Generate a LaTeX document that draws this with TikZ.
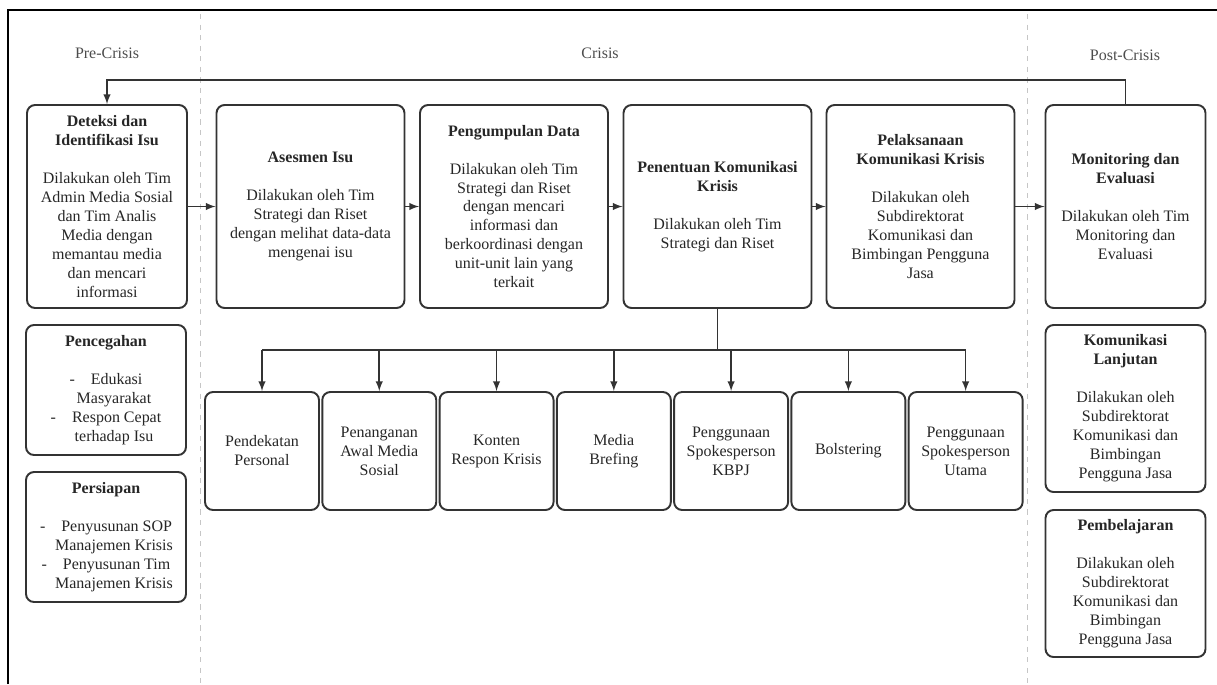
\documentclass[tikz,border=0pt]{standalone}
\usepackage{fontspec}
\setmainfont{Liberation Serif}
\usetikzlibrary{positioning}
\tikzstyle{box} = [rectangle,draw=black!80,line width=1.1pt,rounded corners=0.16cm,align=center,inner sep=0pt,font=\fontsize{9.1}{10.8}\selectfont,text=black!85]
\tikzstyle{stagebox} = [box,minimum width=3.76cm,minimum height=4.06cm]
\tikzstyle{sidebox} = [box,minimum width=3.2cm]
\tikzstyle{tactic} = [box,minimum width=2.28cm,minimum height=2.36cm,on grid,node distance=2.346cm]
\tikzstyle{phase} = [text=black!70,font=\fontsize{9.1}{10.8}\selectfont]
\tikzstyle{divider} = [gray!45,dashed,line width=0.4pt]
\tikzstyle{conn} = [draw=black!80,line width=0.9pt]

\begin{document}
\begin{tikzpicture}[x=0.02cm,y=-0.02cm,>=latex]
\useasboundingbox (0,0) rectangle (1217,684);
\draw[line width=1.5pt] (8,684) -- (8,10) -- (1217,10);
\draw[divider] (200,14) -- (200,684);
\draw[divider] (1027,14) -- (1027,684);

\node[phase] (pre) at (107,53) {Pre-Crisis};
\node[phase] (crisis) at (600,53) {Crisis};
\node[phase] (post) at (1125,55) {Post-Crisis};

% main stages
\node[sidebox,minimum height=4.06cm] (deteksi) at (107,206.5) {{\bfseries Deteksi dan}\\{\bfseries Identifikasi Isu}\\[10.8pt]Dilakukan oleh Tim\\Admin Media Sosial\\dan Tim Analis\\Media dengan\\memantau media\\dan mencari\\informasi};
\node[stagebox] (asesmen) at (310.5,206.5) {{\bfseries Asesmen Isu}\\[10.8pt]Dilakukan oleh Tim\\Strategi dan Riset\\dengan melihat data-data\\mengenai isu};
\node[stagebox] (pengumpulan) at (514,206.5) {{\bfseries Pengumpulan Data}\\[10.8pt]Dilakukan oleh Tim\\Strategi dan Riset\\dengan mencari\\informasi dan\\berkoordinasi dengan\\unit-unit lain yang\\terkait};
\node[stagebox] (penentuan) at (717.5,206.5) {{\bfseries Penentuan Komunikasi}\\{\bfseries Krisis}\\[10.8pt]Dilakukan oleh Tim\\Strategi dan Riset};
\node[stagebox] (pelaksanaan) at (920.5,206.5) {{\bfseries Pelaksanaan}\\{\bfseries Komunikasi Krisis}\\[10.8pt]Dilakukan oleh\\Subdirektorat\\Komunikasi dan\\Bimbingan Pengguna\\Jasa};
\node[sidebox,minimum height=4.06cm] (monitoring) at (1125.5,206.5) {{\bfseries Monitoring dan}\\{\bfseries Evaluasi}\\[10.8pt]Dilakukan oleh Tim\\Monitoring dan\\Evaluasi};

% pre-crisis
\node[sidebox,minimum height=2.6cm] (pencegahan) at (106,390) {{\bfseries Pencegahan}\\[10.8pt]-\hspace{1em}Edukasi\\\hspace*{1em}Masyarakat\\-\hspace{1em}Respon Cepat\\\hspace*{1em}terhadap Isu};
\node[sidebox,minimum height=2.6cm] (persiapan) at (106,537) {{\bfseries Persiapan}\\[10.8pt]-\hspace{1em}Penyusunan SOP\\\hspace*{1em}Manajemen Krisis\\-\hspace{1em}Penyusunan Tim\\\hspace*{1em}Manajemen Krisis};

% post-crisis
\node[sidebox,minimum height=3.34cm] (lanjutan) at (1125.5,408.5) {{\bfseries Komunikasi}\\{\bfseries Lanjutan}\\[10.8pt]Dilakukan oleh\\Subdirektorat\\Komunikasi dan\\Bimbingan\\Pengguna Jasa};
\node[sidebox,minimum height=2.94cm] (pembelajaran) at (1125.5,583.5) {{\bfseries Pembelajaran}\\[10.8pt]Dilakukan oleh\\Subdirektorat\\Komunikasi dan\\Bimbingan\\Pengguna Jasa};

% crisis tactics
\node[tactic] (pendekatan) at (262,451) {Pendekatan\\Personal};
\node[tactic,right=of pendekatan] (penanganan) {Penanganan\\Awal Media\\Sosial};
\node[tactic,right=of penanganan] (konten) {Konten\\Respon Krisis};
\node[tactic,right=of konten] (brefing) {Media\\Brefing};
\node[tactic,right=of brefing] (kbpj) {Penggunaan\\Spokesperson\\KBPJ};
\node[tactic,right=of kbpj] (bolstering) {Bolstering};
\node[tactic,right=of bolstering] (utama) {Penggunaan\\Spokesperson\\Utama};

\draw[conn,->] (deteksi) -- (asesmen);
\draw[conn,->] (asesmen) -- (pengumpulan);
\draw[conn,->] (pengumpulan) -- (penentuan);
\draw[conn,->] (penentuan) -- (pelaksanaan);
\draw[conn,->] (pelaksanaan) -- (monitoring);
\draw[conn,->] (monitoring.north) -- ++(0,-24) -| (deteksi.north);

\coordinate (split) at (717.5,350);
\draw[conn] (penentuan.south) -- (split);
\draw[conn] (split -| pendekatan.north) -- (split -| utama.north);
\foreach \t in {pendekatan,penanganan,konten,brefing,kbpj,bolstering,utama}
  \draw[conn,->] (split -| \t.north) -- (\t.north);

\end{tikzpicture}
\end{document}
